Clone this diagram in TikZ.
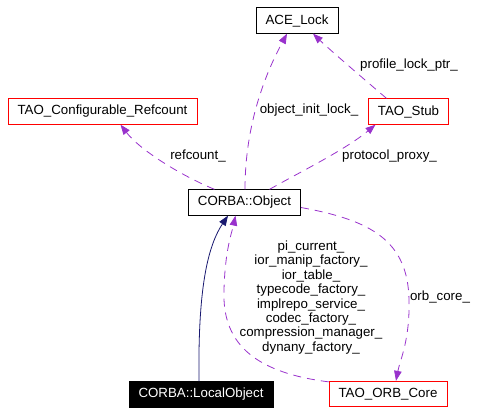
\documentclass[tikz,border=0pt]{standalone}
\usepackage{fontspec}
\setmainfont{Liberation Sans}
\usetikzlibrary{arrows.meta}
\definecolor{edgepurple}{RGB}{153,50,204}
\definecolor{edgenavy}{RGB}{25,25,112}
\tikzset{
  cls/.style={draw=black, line width=0.8pt, minimum height=25.5pt, inner xsep=9.5pt, font=\fontsize{13.3}{14.4}\selectfont},
  clsred/.style={cls, draw=red},
  clsfocus/.style={cls, fill=black, text=white},
  usage/.style={draw=edgepurple, line width=0.8pt, dash pattern=on 8pt off 6pt, -{Triangle[length=10pt,width=7.5pt]}},
  inherit/.style={draw=edgenavy, line width=0.8pt, -{Triangle[length=10pt,width=7.5pt]}},
  lbl/.style={font=\fontsize{13.3}{14.4}\selectfont, align=center, inner sep=0pt}
}
\begin{document}
\begin{tikzpicture}[x=1pt, y=-1pt]
		%%%%% START %%%%%
		\useasboundingbox (0, 0) rectangle (487, 413);
		
		\node[cls] (acelock) at (297, 20.5) {ACE\_Lock};
		\node[clsred] (refcount) at (102.5, 111.5) {TAO\_Configurable\_Refcount};
		\node[clsred] (stub) at (408.5, 111.5) {TAO\_Stub};
		\node[cls] (object) at (244.5, 202.5) {CORBA::Object};
		\node[clsfocus] (localobj) at (201, 394.5) {CORBA::LocalObject};
		\node[clsred] (orbcore) at (388, 394) {TAO\_ORB\_Core};
		
		\draw[usage] ([xshift=-30pt]object.north) .. controls (180, 175) and (140, 150) .. ([xshift=18pt]refcount.south);
		\draw[usage] ([xshift=0.5pt]object.north) .. controls (245, 130) and (262, 80) .. ([xshift=-10pt]acelock.south);
		\draw[usage] ([xshift=-22pt]stub.north) .. controls (365, 80) and (330, 50) .. ([xshift=16pt]acelock.south);
		\draw[usage] ([xshift=25pt]object.north) .. controls (300, 172) and (345, 150) .. ([xshift=-33pt]stub.south);
		\draw[usage] ([yshift=-5pt]object.east) .. controls (370, 220) and (408, 240) .. (409, 300) .. controls (410, 340) and (400, 360) .. ([xshift=8pt]orbcore.north);
		\draw[usage] ([yshift=-1pt]orbcore.north west) .. controls (250, 372) and (222, 340) .. (224, 290) .. controls (225, 250) and (232, 232) .. ([xshift=-9pt]object.south);
		\draw[inherit] ([xshift=-2pt]localobj.north) .. controls (198, 300) and (205, 250) .. ([xshift=-16.5pt]object.south);
		
		\node[lbl] (lrefcount) at (198, 156) {refcount\_};
		\node[lbl] (linitlock) at (309, 110) {object\_init\_lock\_};
		\node[lbl] (lprofile) at (409, 65) {profile\_lock\_ptr\_};
		\node[lbl] (lproxy) at (389.5, 156) {protocol\_proxy\_};
		\node[lbl] (lorbcore) at (440, 297) {orb\_core\_};
		\node[lbl] (lmembers) at (311, 297.5) {pi\_current\_\\ior\_manip\_factory\_\\ior\_table\_\\typecode\_factory\_\\implrepo\_service\_\\codec\_factory\_\\compression\_manager\_\\dynany\_factory\_};
		%%%%% END %%%%%
\end{tikzpicture}
\end{document}
